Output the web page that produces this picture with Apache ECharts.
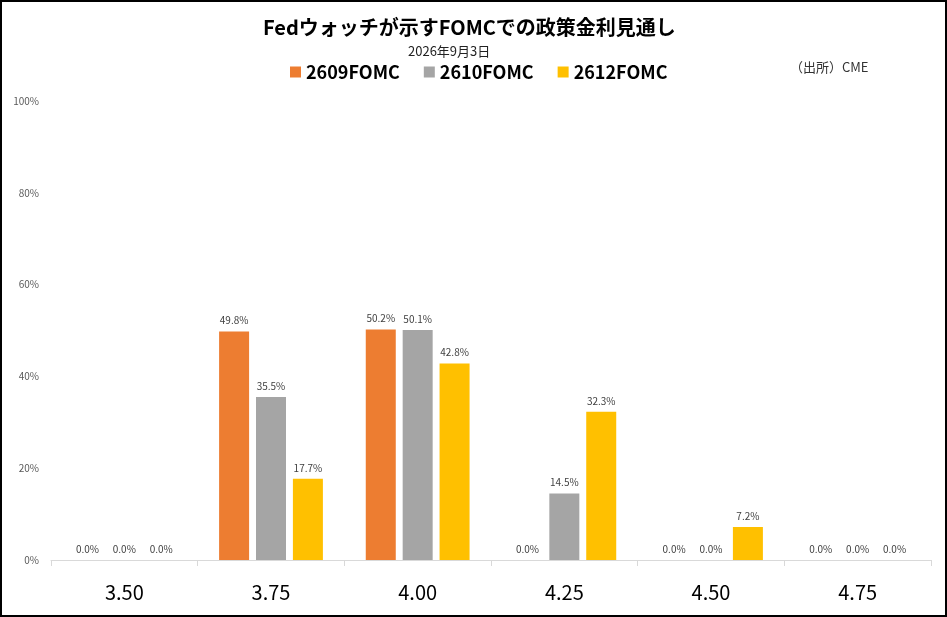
<!DOCTYPE html>
<html lang="ja">
<head>
  <meta charset="UTF-8">
  <title>Fedウォッチ</title>
  <script src="https://cdn.jsdelivr.net/npm/echarts@6/dist/echarts.min.js"></script>
  <style>
    html, body { margin: 0; padding: 0; background: #fff; }
    #chart { width: 947px; height: 617px; box-sizing: border-box; border: 2px solid #000; }
  </style>
</head>
<body>
  <div id="chart"></div>
  <script>
    // 政策金利の水準
    var rates = ['3.50', '3.75', '4.00', '4.25', '4.50', '4.75'];
    var seriesNames = ['2609FOMC', '2610FOMC', '2612FOMC'];
    // 確率 (%)
    var fomc2609 = [0, 49.8, 50.2, 0, 0, 0];
    var fomc2610 = [0, 35.5, 50.1, 14.5, 0, 0];
    var fomc2612 = [0, 17.7, 42.8, 32.3, 7.2, 0];
    var yTicks = [0, 20, 40, 60, 80, 100];

    var colors = ['#ED7D31', '#A5A5A5', '#FFC000'];
    var font = '"Noto Sans CJK JP", "Noto Sans", sans-serif';

    function makeSeries(name, data, i) {
      return {
        name: name,
        type: 'bar',
        data: data,
        barWidth: 30,
        barGap: '23%',
        itemStyle: { color: colors[i] },
        label: {
          show: true,
          position: 'top',
          distance: 6,
          fontSize: 10,
          color: '#404040',
          fontFamily: font,
          formatter: function (p) { return p.value.toFixed(1) + '%'; }
        }
      };
    }

    var myChart = echarts.init(document.getElementById('chart'), null, { renderer: 'canvas' });
    var opt = {
      animation: false,
      title: {
        text: 'Fedウォッチが示すFOMCでの政策金利見通し',
        left: 256,
        top: 10,
        textStyle: { fontSize: 20, fontWeight: 'bold', color: '#000', fontFamily: font }
      },
      graphic: [
        { type: 'text', left: 406, top: 43, style: { text: '2026年9月3日', fontSize: 13, fill: '#222', fontFamily: font } },
        { type: 'text', left: 788, top: 59, style: { text: '（出所）CME', fontSize: 13, fill: '#333', fontFamily: font } }
      ],
      legend: {
        data: seriesNames,
        left: 283,
        top: 56,
        itemWidth: 11,
        itemHeight: 11,
        itemGap: 24,
        icon: 'rect',
        textStyle: { fontSize: 18, fontWeight: 'bold', color: '#000', fontFamily: font }
      },
      grid: { left: 49, right: 14, top: 99, bottom: 55 },
      xAxis: {
        type: 'category',
        data: rates,
        axisLine: { lineStyle: { color: '#D9D9D9', width: 1 } },
        axisTick: { show: true, length: 6, lineStyle: { color: '#D9D9D9' } },
        axisLabel: { fontSize: 20, color: '#000', margin: 22, fontFamily: font }
      },
      yAxis: {
        type: 'value',
        min: yTicks[0],
        max: yTicks[yTicks.length - 1],
        interval: 20,
        splitLine: { show: false },
        axisLine: { show: false },
        axisTick: { show: false },
        axisLabel: { fontSize: 10, color: '#595959', margin: 12, fontFamily: font, formatter: '{value}%' }
      },
      series: [
        makeSeries(seriesNames[0], fomc2609, 0),
        makeSeries(seriesNames[1], fomc2610, 1),
        makeSeries(seriesNames[2], fomc2612, 2)
      ]
    };
    myChart.setOption(opt);
  </script>
</body>
</html>
